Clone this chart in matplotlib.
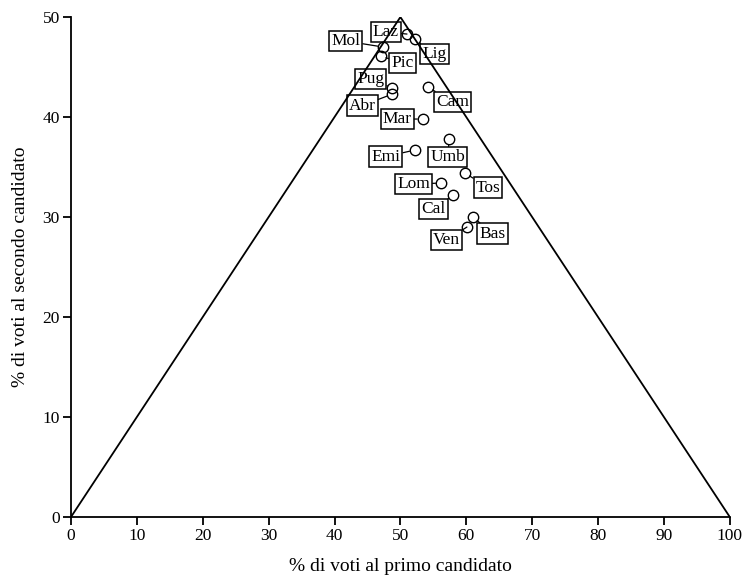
import matplotlib
matplotlib.use("Agg")
import matplotlib.pyplot as plt

# Regional vote shares: first and second candidate (%)
regions = ["Laz", "Lig", "Mol", "Pic", "Pug", "Abr", "Cam", "Mar",
           "Umb", "Emi", "Tos", "Lom", "Cal", "Bas", "Ven"]
primo = [51.0, 52.2, 47.4, 47.0, 48.8, 48.8, 54.2, 53.4,
         57.4, 52.2, 59.8, 56.2, 58.0, 61.0, 60.1]
secondo = [48.3, 47.8, 47.0, 46.1, 42.9, 42.3, 43.0, 39.8,
           37.8, 36.7, 34.4, 33.4, 32.2, 30.0, 29.0]

# Label placement (data coordinates) for each region tag
label_pos = {
    "Laz": (47.8, 48.5), "Lig": (55.2, 46.3), "Mol": (41.7, 47.6),
    "Pic": (50.3, 45.4), "Pug": (45.5, 43.8), "Abr": (44.2, 41.15),
    "Cam": (57.9, 41.5), "Mar": (49.5, 39.8), "Umb": (57.2, 36.0),
    "Emi": (47.8, 36.05), "Tos": (63.3, 32.95), "Lom": (52.0, 33.3),
    "Cal": (55.0, 30.8), "Bas": (64.0, 28.35), "Ven": (57.0, 27.7),
}

x_ticks = list(range(0, 101, 10))
y_ticks = list(range(0, 51, 10))

plt.rcParams["font.family"] = ["Liberation Serif", "DejaVu Serif"]

fig = plt.figure(figsize=(7.47, 5.80), dpi=100)
ax = fig.add_axes([0.095, 0.1086, 0.882, 0.862])

# Feasibility triangle
ax.plot([0, 50, 100], [0, 50, 0], color="black", lw=1.3, zorder=5)

ax.plot(primo, secondo, linestyle="none", marker="o", markersize=7.5,
        markerfacecolor="none", markeredgecolor="black", markeredgewidth=1.0,
        zorder=3)

for name, xv, yv in zip(regions, primo, secondo):
    lx, ly = label_pos[name]
    ax.annotate(name, xy=(xv, yv), xytext=(lx, ly),
                ha="center", va="center", fontsize=12.5,
                bbox=dict(boxstyle="square,pad=0.12", fc="none",
                          ec="black", lw=1.1),
                arrowprops=dict(arrowstyle="-", color="black", lw=0.9,
                                shrinkA=0, shrinkB=4),
                zorder=4)

ax.set_xlim(0, 100)
ax.set_ylim(0, 50)
ax.set_xticks(x_ticks)
ax.set_yticks(y_ticks)
ax.tick_params(direction="out", length=6, width=1.3, labelsize=12.5, pad=2)
for side in ("top", "right"):
    ax.spines[side].set_visible(False)
for side in ("left", "bottom"):
    ax.spines[side].set_linewidth(1.3)

ax.set_xlabel("% di voti al primo candidato", fontsize=14, labelpad=10)
ax.set_ylabel("% di voti al secondo candidato", fontsize=14, labelpad=10)

fig.savefig("out.png", dpi=100)
